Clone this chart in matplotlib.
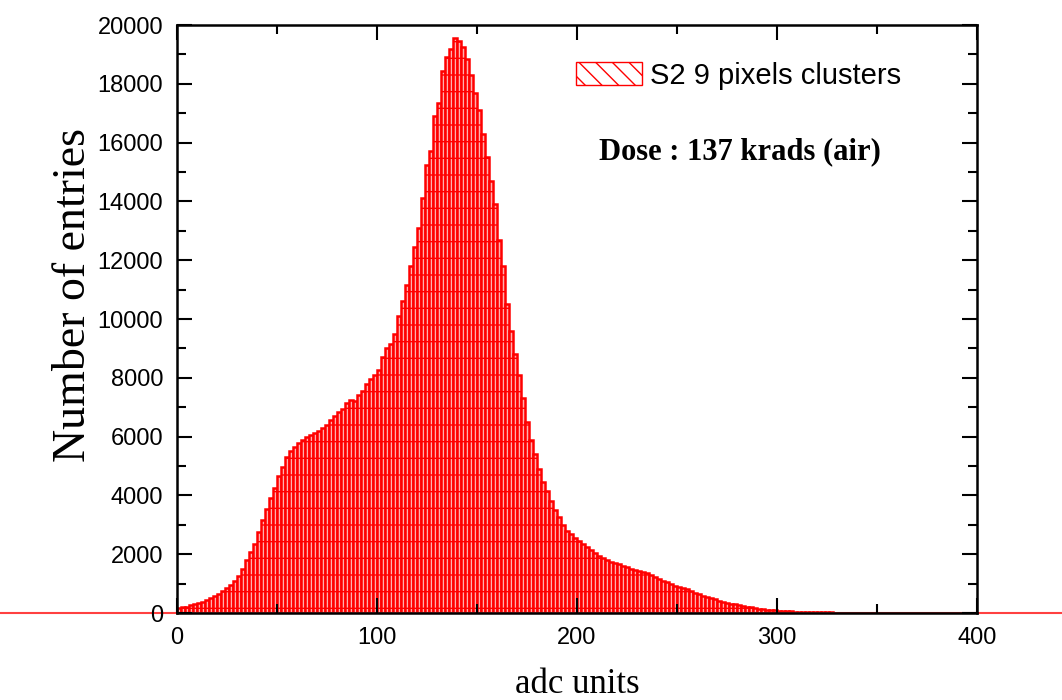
import numpy as np
import matplotlib
matplotlib.use("Agg")
import matplotlib.pyplot as plt
from matplotlib.patches import Patch
from matplotlib.ticker import MultipleLocator

# histogram: bins of 2 adc units starting at -20
bin_start = -20
bin_width = 2
counts = [
    20, 30, 30, 40, 50, 60, 70, 80, 100, 120,
    160, 190, 220, 260, 300, 340, 385, 440, 500, 570,
    660, 760, 850, 960, 1080, 1250, 1480, 1800, 2080, 2330,
    2750, 3150, 3550, 3900, 4250, 4650, 4980, 5300, 5500, 5650,
    5780, 5870, 5980, 6050, 6130, 6200, 6280, 6400, 6550, 6700,
    6850, 6950, 7150, 7250, 7200, 7400, 7550, 7800, 7950, 8100,
    8250, 8700, 9000, 9150, 9500, 10100, 10600, 11150, 11800, 12450,
    13100, 14100, 15250, 15700, 16900, 17350, 18450, 18900, 19200, 19550,
    19450, 19250, 18850, 18300, 17700, 17100, 16300, 15500, 14700, 13900,
    12700, 11800, 10500, 9600, 8800, 8100, 7300, 6500, 5900, 5400,
    4900, 4450, 4150, 3800, 3500, 3250, 3000, 2800, 2680, 2550,
    2450, 2350, 2250, 2150, 2050, 1950, 1880, 1800, 1750, 1700,
    1650, 1600, 1550, 1500, 1470, 1430, 1390, 1360, 1300, 1220,
    1150, 1080, 1050, 980, 930, 890, 860, 800, 740, 690,
    650, 590, 540, 500, 460, 420, 380, 350, 320, 290,
    260, 230, 210, 190, 170, 150, 130, 115, 100, 90,
    80, 70, 60, 55, 50, 45, 40, 35, 30, 28,
    25, 22, 20, 18, 15, 12, 10, 8, 6, 5,
]
# empty bins run on past the frame on both sides
baseline_x = [-88, 442]

edges = bin_start + bin_width * np.arange(len(counts))

fig = plt.figure(figsize=(10.62, 7.0), dpi=100)
ax = fig.add_axes([177 / 1062, 87 / 700, 800 / 1062, 588 / 700])

ax.bar(edges, counts, width=bin_width, align="edge",
       facecolor="#ffb0b0", edgecolor="red", linewidth=1.8, hatch="-")
ax.plot(baseline_x, [0, 0], color="#ff4040", lw=1.5, clip_on=False, zorder=1)

ax.set_xlim(0, 400)
ax.set_ylim(0, 20000)
ax.xaxis.set_major_locator(MultipleLocator(100))
ax.xaxis.set_minor_locator(MultipleLocator(50))
ax.yaxis.set_major_locator(MultipleLocator(2000))
ax.yaxis.set_minor_locator(MultipleLocator(1000))
ax.tick_params(which="both", direction="in", top=True, right=True, width=1.5)
ax.tick_params(which="major", length=11, pad=10, labelsize=17)
ax.tick_params(which="minor", length=6.5)
for lab in ax.get_xticklabels() + ax.get_yticklabels():
    lab.set_family("Liberation Sans")
for sp in ax.spines.values():
    sp.set_linewidth(1.8)
    sp.set_zorder(5)

ax.set_xlabel("adc units", family="Liberation Serif", fontsize=25, labelpad=14)
ax.set_ylabel("Number of entries", family="Liberation Serif", fontsize=33)
ax.yaxis.set_label_coords(-0.102, 0.54)

handle = Patch(facecolor="white", edgecolor="red", hatch="\\\\", linewidth=1)
fig.legend([handle], ["S2 9 pixels clusters"], loc="center left",
           bbox_to_anchor=(576 / 1062, 1 - 75.5 / 700), frameon=False,
           prop={"family": "Liberation Sans", "size": 21},
           handlelength=2.25, handleheight=0.84, handletextpad=0.3,
           borderpad=0, borderaxespad=0)

fig.text(599 / 1062, 1 - 152 / 700, "Dose : 137 krads (air)", family="Liberation Serif",
         fontsize=22, fontweight="bold", ha="left", va="center")

fig.savefig("out.png", dpi=100)
